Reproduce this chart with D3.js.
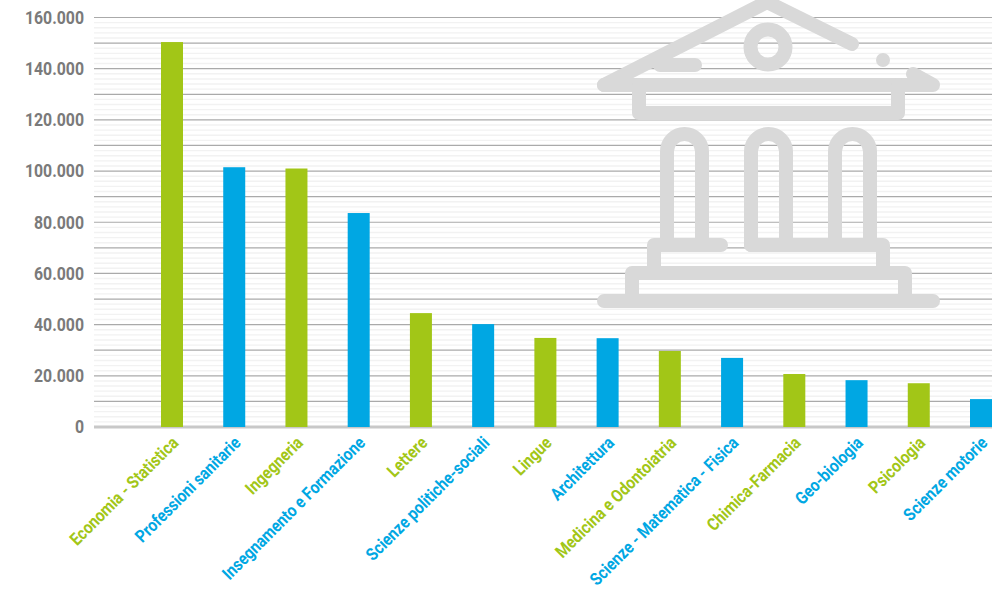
<!DOCTYPE html>
<html>
<head>
<meta charset="utf-8">
<title>Immatricolati per area</title>
<script src="https://cdn.jsdelivr.net/npm/d3@7"></script>
<style>
	body { margin: 0; background: white; }
	svg { display: block; }
	text { font-family: "Roboto", sans-serif; font-weight: bold; }
	.y_axis text { fill: #7a7a7a; font-size: 18px; }
	.x_axis text { font-size: 17.5px; }
	.domain { display: none; }
	.icon path, .icon circle.ring { fill: none; stroke: #d9d9d9; stroke-width: 14; stroke-linecap: round; stroke-linejoin: round; }
</style>
</head>
<body>
<svg id="chart" width="1007" height="589"></svg>

<script>
	var categories = [
		"Economia - Statistica", "Professioni sanitarie", "Ingegneria",
		"Insegnamento e Formazione", "Lettere", "Scienze politiche-sociali",
		"Lingue", "Architettura", "Medicina e Odontoiatria",
		"Scienze - Matematica - Fisica", "Chimica-Farmacia", "Geo-biologia",
		"Psicologia", "Scienze motorie"
	];
	var values = [150400, 101500, 101000, 83600, 44500, 40200, 34800, 34700, 29700, 27000, 20700, 18300, 17100, 10900];
	var yTicks = [0, 20000, 40000, 60000, 80000, 100000, 120000, 140000, 160000];

	var green = "#a2c617", blue = "#00a7e3";
	var barWidth = 22;
	var plotLeft = 94, plotRight = 992, plotTop = 17.5, plotBottom = 427;
	var squeeze = 0.88; // no condensed font here, so narrow the Roboto glyphs
	var labelSqueeze = 0.865;

	var svg = d3.select("#chart");
	var it = d3.formatLocale({ decimal: ",", thousands: ".", grouping: [3], currency: ["", "€"] });

	var x = d3.scalePoint().domain(categories).range([172, 981]);
	var y = d3.scaleLinear().domain([0, 160000]).range([plotBottom, plotTop]);
	var colorOf = (d, i) => i % 2 == 0 ? green : blue;

	// light lines every 2.000, darker every 10.000
	var gridValues = d3.range(0, 160001, 2000);
	svg.append("g").selectAll("line")
		.data(gridValues).enter().append("line")
			.attr("x1", plotLeft)
			.attr("x2", plotRight)
			.attr("y1", d => y(d))
			.attr("y2", d => y(d))
			.attr("stroke", d => d == 0 ? "#c8c8c8" : d % 10000 == 0 ? "#aaaaaa" : "#f2f2f2")
			.attr("stroke-width", d => d == 0 ? 3 : d % 10000 == 0 ? 1.2 : 1.4);

	svg.append("g").attr("class", "bars").selectAll("rect")
		.data(values).enter().append("rect")
			.attr("x", (d, i) => x(categories[i]) - barWidth / 2)
			.attr("y", d => y(d))
			.attr("width", barWidth)
			.attr("height", d => y(0) - y(d))
			.attr("fill", colorOf);

	svg.append("g")
		.attr("class", "y_axis")
		.attr("transform", "translate(" + plotLeft + ",0)")
		.call(d3.axisLeft(y).tickValues(yTicks).tickSize(0).tickPadding(10).tickFormat(it.format(",")))
		.selectAll("text")
			.attr("transform", "scale(" + squeeze + ",1)")
			.attr("x", -10 / squeeze);

	svg.append("g")
		.attr("class", "x_axis")
		.attr("transform", "translate(0," + plotBottom + ")")
		.call(d3.axisBottom(x).tickSize(0))
		.selectAll("text")
			.attr("text-anchor", "end")
			.attr("dy", 0)
			.attr("y", 0)
			.attr("transform", "translate(7,17) rotate(-45) scale(" + labelSqueeze + ",1)")
			.attr("fill", (d, i) => colorOf(d, i));

	// building icon, sits on top of the grid
	var icon = svg.append("g").attr("class", "icon");
	[
		"M604,85 L767,2 L852,44",
		"M660,65 H695",
		"M604,85 H933 L913,74",
		"M639,85 V113 H898 V85",
		"M667,245 V151.5 A17.5,17.5 0 0 1 702,151.5 V245",
		"M751,245 V151.5 A17.5,17.5 0 0 1 786,151.5 V245",
		"M835,245 V151.5 A17.5,17.5 0 0 1 870,151.5 V245",
		"M721,245 H654 V273",
		"M751,245 H883 V273",
		"M632,301 V273 H905 V301",
		"M604,301 H933"
	].forEach(p => icon.append("path").attr("d", p));
	icon.append("circle").attr("class", "ring").attr("cx", 768).attr("cy", 47).attr("r", 17.5);
	icon.append("circle").attr("cx", 883).attr("cy", 60).attr("r", 7).attr("fill", "#d9d9d9");
</script>
</body>
</html>
